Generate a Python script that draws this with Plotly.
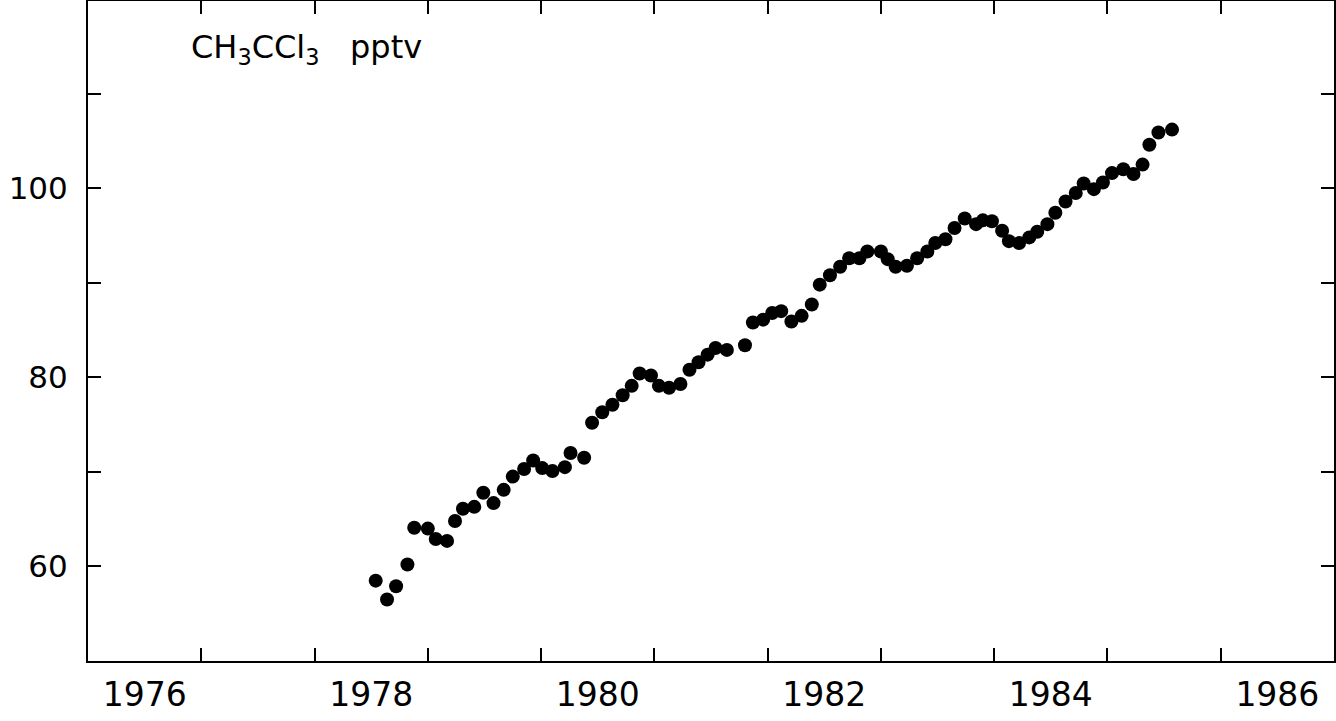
import plotly.graph_objects as go

# Decimal year of each monthly sample and CH3CCl3 mixing ratio (pptv)
years = [1978.54, 1978.64, 1978.72, 1978.82, 1978.88, 1979.00, 1979.07, 1979.17, 1979.24, 1979.31,
         1979.41, 1979.49, 1979.58, 1979.67, 1979.75, 1979.85, 1979.93, 1980.01, 1980.10, 1980.21,
         1980.26, 1980.38, 1980.45, 1980.54, 1980.63, 1980.72, 1980.80, 1980.87, 1980.97, 1981.04,
         1981.13, 1981.23, 1981.31, 1981.39, 1981.47, 1981.54, 1981.64, 1981.80, 1981.87, 1981.96,
         1982.04, 1982.12, 1982.21, 1982.30, 1982.39, 1982.46, 1982.55, 1982.64, 1982.72, 1982.81,
         1982.88, 1983.00, 1983.06, 1983.13, 1983.23, 1983.32, 1983.41, 1983.48, 1983.57, 1983.65,
         1983.74, 1983.84, 1983.90, 1983.98, 1984.07, 1984.13, 1984.22, 1984.31, 1984.38, 1984.47,
         1984.54, 1984.63, 1984.72, 1984.79, 1984.88, 1984.96, 1985.04, 1985.14, 1985.23, 1985.31,
         1985.37, 1985.45, 1985.57]
pptv = [58.5, 56.5, 57.9, 60.2, 64.1, 64.0, 62.9, 62.7, 64.8, 66.1,
        66.3, 67.8, 66.7, 68.1, 69.5, 70.3, 71.2, 70.4, 70.1, 70.5,
        72.0, 71.5, 75.2, 76.3, 77.1, 78.1, 79.1, 80.4, 80.2, 79.1,
        78.9, 79.3, 80.8, 81.6, 82.4, 83.1, 82.9, 83.4, 85.8, 86.1,
        86.8, 87.0, 85.9, 86.5, 87.7, 89.8, 90.8, 91.7, 92.6, 92.6,
        93.3, 93.3, 92.5, 91.7, 91.8, 92.6, 93.3, 94.2, 94.6, 95.8,
        96.8, 96.2, 96.6, 96.5, 95.5, 94.4, 94.2, 94.8, 95.4, 96.2,
        97.4, 98.6, 99.5, 100.5, 99.9, 100.6, 101.6, 102.0, 101.5, 102.5,
        104.6, 105.9, 106.2]

year_ticks = [1977, 1978, 1979, 1980, 1981, 1982, 1983, 1984, 1985, 1986]
year_label_pos = [1976.5, 1978.5, 1980.5, 1982.5, 1984.5, 1986.5]
year_labels = ["1976", "1978", "1980", "1982", "1984", "1986"]
y_label_ticks = [60, 80, 100]
y_labels = ["60", "80", "100"]
y_minor_ticks = [70, 90, 110]

XR = [1976, 1987]
YR = [50, 119.8]
FONT = "DejaVu Sans"

fig = go.Figure()
fig.add_trace(go.Scatter(x=years, y=pptv, mode="markers",
                         marker=dict(size=14, color="black"),
                         showlegend=False, hoverinfo="x+y"))
# carrier trace for the label / extra tick axes
fig.add_trace(go.Scatter(x=[year_label_pos[0]], y=[None], xaxis="x2", yaxis="y2",
                         mode="markers", showlegend=False, hoverinfo="skip"))

tick_common = dict(ticks="inside", ticklen=13, tickwidth=2, tickcolor="black",
                   showgrid=False, zeroline=False, automargin=False)

fig.update_layout(
    width=1336, height=721,
    margin=dict(l=88, r=2, t=1, b=60, autoexpand=False),
    paper_bgcolor="white", plot_bgcolor="white",
    xaxis=dict(range=XR, tickvals=year_ticks, showticklabels=False,
               showline=True, linecolor="black", linewidth=2, mirror="ticks",
               **tick_common),
    xaxis2=dict(range=XR, overlaying="x", anchor="y", side="bottom",
                tickvals=year_label_pos, ticktext=year_labels, ticks="",
                showline=False, showgrid=False, zeroline=False, automargin=False,
                tickfont=dict(family=FONT, size=33, color="black"),
                ticklabelstandoff=11),
    yaxis=dict(range=YR, tickvals=y_label_ticks, ticktext=y_labels,
               showline=True, linecolor="black", linewidth=2, mirror="ticks",
               tickfont=dict(family=FONT, size=31, color="black"),
               ticklabelstandoff=12, **tick_common),
    yaxis2=dict(range=YR, overlaying="y", anchor="x", side="left",
                tickvals=y_minor_ticks, showticklabels=False,
                showline=False, mirror="ticks", **tick_common),
    annotations=[dict(text="CH<sub>3</sub>CCl<sub>3</sub>&nbsp;&nbsp; pptv",
                      xref="paper", yref="paper", x=0.081, y=0.927,
                      xanchor="left", yanchor="middle", showarrow=False,
                      font=dict(family=FONT, size=32, color="black"))],
)

fig.write_html("out.html", config={"displayModeBar": False},
               post_script="document.body.style.margin='0';document.body.style.overflow='hidden';")
